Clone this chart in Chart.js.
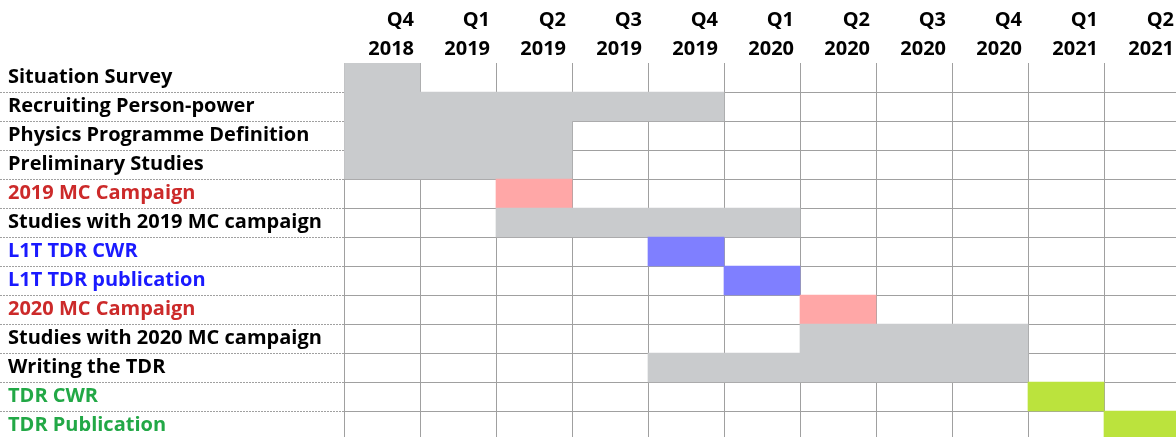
<!DOCTYPE html>
<html>
<head>
<meta charset="utf-8">
<script src="https://cdn.jsdelivr.net/npm/chart.js@4.4.1/dist/chart.umd.min.js"></script>
<style>
  html, body { margin: 0; padding: 0; background: #ffffff; overflow: hidden; }
  #wrap { position: absolute; left: 0; top: 0; width: 1180px; height: 440px; }
</style>
</head>
<body>
<div id="wrap"><canvas id="c" width="1180" height="440"></canvas></div>
<script>
const quarterLabels = [
  ['Q4', '2018'], ['Q1', '2019'], ['Q2', '2019'], ['Q3', '2019'], ['Q4', '2019'],
  ['Q1', '2020'], ['Q2', '2020'], ['Q3', '2020'], ['Q4', '2020'], ['Q1', '2021'], ['Q2', '2021']
];
const tasks = [
  'Situation Survey',
  'Recruiting Person-power',
  'Physics Programme Definition',
  'Preliminary Studies',
  '2019 MC Campaign',
  'Studies with 2019 MC campaign',
  'L1T TDR CWR',
  'L1T TDR publication',
  '2020 MC Campaign',
  'Studies with 2020 MC campaign',
  'Writing the TDR',
  'TDR CWR',
  'TDR Publication'
];
// start / end quarter index (0 = Q4 2018), end exclusive
const startQuarter = [0, 0, 0, 0, 2, 2, 4, 5, 6, 6, 4, 9, 10];
const endQuarter   = [1, 5, 3, 3, 3, 6, 5, 6, 7, 9, 9, 10, 11];
const taskType = ['study', 'study', 'study', 'study', 'mc', 'study', 'l1t', 'l1t', 'mc', 'study', 'study', 'tdr', 'tdr'];

const barColorByType = { study: '#c9cbcd', mc: '#ffa7a7', l1t: '#7f7fff', tdr: '#bbe33d' };
const labelColorByType = { study: '#000000', mc: '#cc2a2a', l1t: '#1a1aff', tdr: '#22a846' };

const FONT = { family: '"Open Sans", "DejaVu Sans", sans-serif', size: 20, weight: 'bold' };
const GRID = '#a0a0a0';

new Chart(document.getElementById('c'), {
  type: 'bar',
  data: {
    labels: tasks,
    datasets: [{
      data: tasks.map((t, i) => [startQuarter[i], endQuarter[i]]),
      backgroundColor: taskType.map(t => barColorByType[t]),
      borderWidth: 0,
      barPercentage: 1,
      categoryPercentage: 1
    }]
  },
  options: {
    indexAxis: 'y',
    responsive: false,
    animation: false,
    devicePixelRatio: 1,
    layout: { padding: { left: 8, top: 0, right: 0, bottom: 0 } },
    plugins: { legend: { display: false }, tooltip: { enabled: false } },
    scales: {
      x: {
        type: 'linear',
        position: 'top',
        min: 0,
        max: quarterLabels.length,
        z: 1,
        border: { display: false },
        grid: { color: GRID, lineWidth: 1, borderDash: [2, 1], drawTicks: false },
        afterBuildTicks: (s) => { s.ticks = quarterLabels.map((q, i) => ({ value: i })).concat([{ value: quarterLabels.length }]); },
        afterFit: (s) => { s.height = 63; s.paddingLeft = 0; s.paddingRight = 0; },
        ticks: {
          autoSkip: false,
          maxRotation: 0,
          align: 'end',
          labelOffset: -6,
          padding: -1,
          color: '#000000',
          font: Object.assign({ lineHeight: 1.45 }, FONT),
          callback: (v) => (v >= 1 && v <= quarterLabels.length) ? quarterLabels[v - 1] : ''
        }
      },
      y: {
        type: 'category',
        position: 'left',
        z: 1,
        border: { display: false },
        grid: {
          color: (ctx) => ctx.index === 0 ? 'rgba(0,0,0,0)' : GRID,
          lineWidth: 1,
          borderDash: [2, 1],
          tickBorderDash: [2, 1],
          drawTicks: true,
          tickLength: 344
        },
        afterFit: (s) => { s.width = 336; s.paddingTop = 0; s.paddingBottom = 0; },
        ticks: {
          autoSkip: false,
          crossAlign: 'far',
          padding: 0,
          color: taskType.map(t => labelColorByType[t]),
          font: FONT
        }
      }
    }
  }
});
</script>
</body>
</html>
